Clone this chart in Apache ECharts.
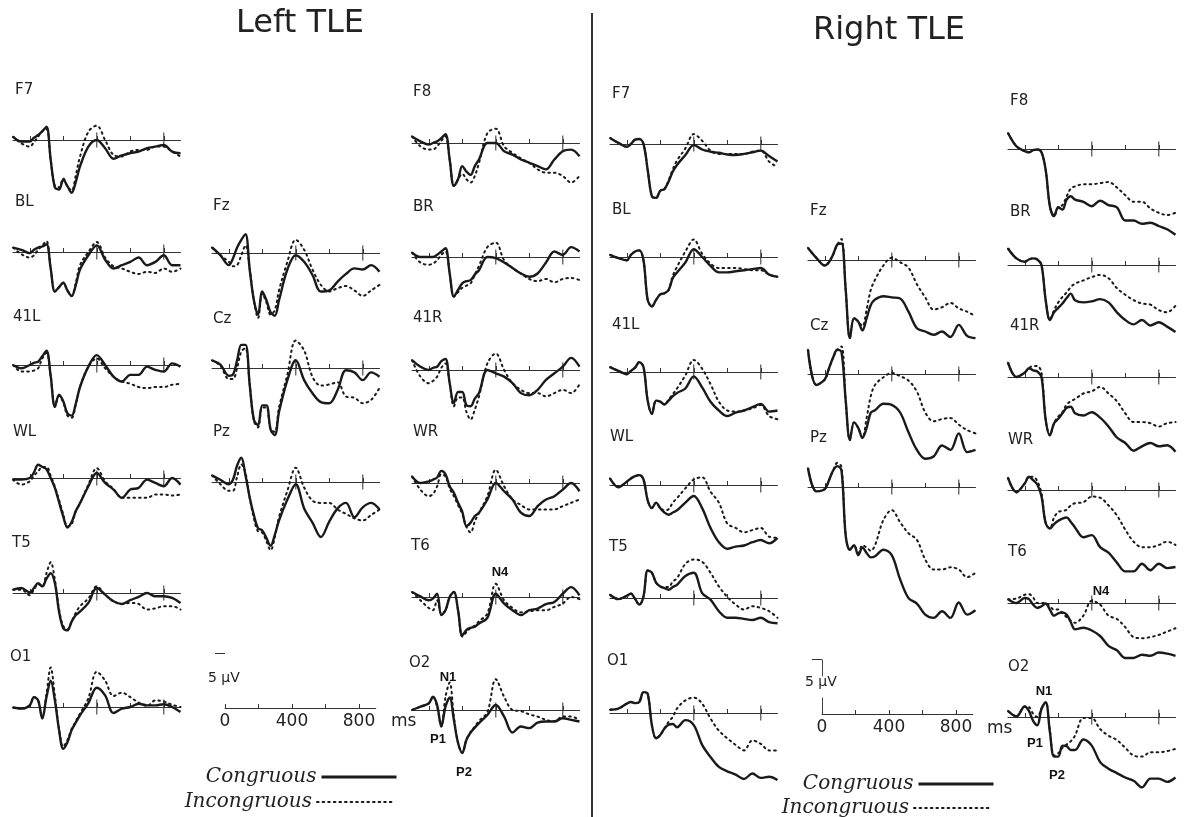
<!DOCTYPE html>
<html><head><meta charset="utf-8">
<script src="https://cdn.jsdelivr.net/npm/echarts@6/dist/echarts.min.js"></script>
<style>html,body{margin:0;padding:0;background:#fff}#c{width:1184px;height:817px}</style>
</head><body><div id="c"></div>
<script>
// ---- sampling times (ms) and tick values ----
const TIMES = [-100,-50,0,25,50,75,100,125,150,175,200,225,250,275,300,350,400,450,500,550,600,650,700,750,800,850,900];
const TICKS_SMALL = [0,200,600];
const TICKS_BIG = [400,800];
const SCALE_TICKS = [0,200,400,600,800];
const SCALE_LABELS = [0,400,800];
const SCALE_UV = 5;

// ---- Left TLE (µV, negative plotted up) ----
const L_F7_con = [-0.3,0.15,0.15,-0.2,-0.45,-0.8,-1.2,1.8,4.3,4.5,3.6,4.2,4.8,3.8,2.4,0.6,0,0.75,1.7,1.4,1.2,1.05,0.75,0.6,0.45,1.05,1.2];
const L_F7_inc = [-0.3,0.3,0.6,0.2,-0.3,-0.8,-1.0,1.8,4.2,4.3,3.5,4.2,4.6,3.2,1.5,-0.75,-1.3,0,1.35,1.5,1.05,0.9,0.9,0.6,0.6,1.05,1.5];
const L_BL_con = [-0.4,-0.2,0.1,-0.2,-0.4,-0.5,-0.7,1.5,3.6,3.2,2.8,3.5,4.0,3.0,1.6,0.3,-0.6,0.7,1.5,1.2,0.9,0.5,1.2,0.9,0.3,1.2,1.2];
const L_BL_inc = [-0.4,0.2,0.5,0.3,-0.2,-0.6,-1.0,1.5,3.6,3.2,2.8,3.5,4.0,2.8,1.2,0,-0.9,0.5,1.3,1.5,1.8,2.0,1.8,1.9,1.5,1.8,1.5];
const L_41L_con = [0,0.3,0,-0.2,-0.3,-0.8,-1.3,1.0,3.8,2.7,3.3,4.4,4.6,3.5,2.0,0.15,-0.9,0,1.05,1.5,0.9,0.9,0.15,0.45,0.6,-0.15,0.15];
const L_41L_inc = [0,0.6,0.6,0.5,0.3,-0.6,-1.1,1.0,3.8,2.8,3.4,4.6,4.8,3.6,2.0,0.15,-0.6,0.3,1.05,1.5,1.7,2.0,2.1,2.0,2.0,1.8,1.7];
const L_WL_con = [0.15,0.15,0,-0.5,-1.2,-1.0,-0.8,0,0.9,2.2,3.5,4.5,4.0,3.0,2.3,0.75,-0.45,0.45,1.05,1.8,1.05,0.9,0.15,0.45,0.75,0,0.6];
const L_WL_inc = [0.15,0.6,0.3,-0.2,-0.6,-1.0,-1.0,-0.2,0.8,2.0,3.3,4.4,4.2,3.0,2.3,0.6,-0.9,0.3,1.0,1.8,1.8,1.8,1.8,1.5,1.5,1.6,1.5];
const L_T5_con = [-0.3,-0.45,-0.05,-0.45,-0.9,-0.6,-1.3,-1.8,-0.9,1.7,3.2,3.4,2.6,2.0,1.7,0.9,-0.45,0.15,0.75,1.0,0.65,0.35,0,0.3,0.3,0.45,0.9];
const L_T5_inc = [-0.3,-0.3,0.2,-0.3,-0.8,-0.6,-1.8,-2.8,-1.2,1.5,3.0,3.3,2.6,1.8,1.2,0.5,-0.6,0.15,0.75,1.0,0.9,1.0,1.5,1.4,1.2,1.2,1.5];
const L_O1_con = [0.05,0.15,-0.15,-0.9,-0.6,1.05,-0.9,-2.4,-0.6,2.1,3.8,3.2,2.1,1.4,0.75,-0.35,-1.75,-1.05,0.55,0.15,0,-0.3,-0.15,-0.15,-0.25,0,0.45];
const L_O1_inc = [0.05,0.15,-0.15,-0.9,-0.6,1.0,-1.2,-3.6,-1.0,2.0,3.6,3.0,2.0,1.3,0.6,-0.8,-3.2,-2.4,-1.0,-1.3,-0.9,-0.4,-0.1,-0.6,-0.5,-0.2,0];
const L_Fz_con = [-0.5,0.2,1.1,0.5,-0.5,-1.2,-1.7,1.5,4.3,5.6,3.5,4.3,5.4,5.7,4.3,1.5,0.2,0.8,2.0,3.5,3.4,2.6,1.9,1.4,1.5,1.1,1.7];
const L_Fz_inc = [-0.5,0.2,0.8,1.2,1.1,0.2,-0.7,1.4,4.3,5.9,3.7,4.5,5.6,5.2,3.4,0.8,-1.2,-0.3,1.5,2.9,3.5,3.2,3.0,3.4,3.9,3.4,2.9];
const L_Cz_con = [-0.7,-0.3,0.7,0.6,-0.7,-2.1,-2.1,1.5,4.7,5.2,3.4,3.4,5.6,6.1,4.0,1.1,-0.7,1.1,2.3,3.1,3.2,2.0,0.2,0.4,1.1,0.4,0.8];
const L_Cz_inc = [-0.7,-0.2,1.0,1.0,0,-1.5,-1.8,1.5,4.8,5.4,3.6,3.6,5.6,5.8,3.6,0.6,-2.5,-1.6,0.8,1.6,1.5,1.3,2.6,2.7,3.2,2.9,1.8];
const L_Pz_con = [-0.6,-0.2,0.2,-0.2,-1.5,-2.2,-0.6,1.4,3.0,4.2,4.4,5.1,5.8,4.8,3.5,1.6,0.2,2.4,3.7,5.0,3.6,2.4,1.9,3.2,2.3,1.9,2.5];
const L_Pz_inc = [-0.6,0.2,0.8,0.8,-0.5,-1.6,-0.8,1.4,3.3,4.5,4.6,5.4,6.2,5.0,3.2,0.8,-1.3,0.5,1.7,1.9,1.9,2.5,2.9,3.3,3.5,3.0,2.5];
const L_F8_con = [-0.6,-0.15,0.15,0,-0.15,-0.45,-0.8,1.5,3.9,3.3,2.1,2.6,2.9,2.1,1.5,0,0,0.75,1.05,1.5,1.8,2.1,2.4,1.5,0.75,0.6,1.2];
const L_F8_inc = [-0.6,0.3,0.6,0.6,0.3,-0.2,-0.6,1.5,3.9,3.3,2.8,3.3,3.6,3.0,1.8,-0.9,-1.3,0.3,0.9,1.4,1.8,2.4,2.7,2.7,3.0,3.6,3.0];
const L_BR_con = [-0.4,0,0,0,-0.2,-0.5,-0.8,1.5,3.6,3.0,2.4,2.2,2.1,1.6,1.2,0,0.1,0.5,1.0,1.5,1.8,1.5,0.5,-0.5,-0.2,-0.9,-0.5];
const L_BR_inc = [-0.4,0.5,0.7,0.6,0.3,-0.2,-0.5,1.5,3.6,3.2,2.8,2.6,2.4,1.6,0.8,-0.9,-1.3,0.3,1.0,1.5,2.0,2.2,2.0,2.3,2.0,1.9,2.1];
const L_41R_con = [-0.9,-0.3,0,-0.2,-0.3,-0.8,-1.0,1.2,3.0,2.0,2.0,3.2,3.3,2.6,2.1,0,0.3,0.6,1.2,2.1,2.3,1.8,0.9,0.3,-0.3,-1.1,-0.3];
const L_41R_inc = [-0.9,0.6,1.2,1.0,0.6,-0.2,-0.6,1.2,3.3,2.5,2.5,3.8,4.5,3.6,2.4,-0.6,-1.5,0,1.2,1.8,2.1,2.1,2.4,2.1,1.8,2.1,1.3];
const L_WR_con = [-0.6,0,-0.15,-0.3,-0.5,-1.1,-0.8,0.3,0.9,1.8,2.6,3.9,3.6,3.0,2.7,1.5,0,0.75,1.5,2.7,3.0,2.1,1.5,1.2,0.6,0,0.75];
const L_WR_inc = [-0.6,0.6,1.2,1.0,0.3,-0.8,-0.6,0.5,1.2,2.0,2.8,4.0,4.5,3.5,2.7,1.2,-1.2,0.3,1.5,2.0,2.4,2.4,2.4,2.4,2.1,1.8,1.5];
const L_T6_con = [-0.45,-0.05,0.3,0.15,-0.3,1.65,1.2,0,-0.45,1.2,3.5,3.0,2.8,2.7,2.4,1.9,-0.3,0.6,1.2,1.65,1.2,1.05,0.65,0.45,-0.3,-0.9,-0.15];
const L_T6_inc = [-0.45,0.3,1.0,1.2,0.3,1.5,1.2,0,-0.45,1.2,3.6,3.2,2.8,2.6,2.2,1.5,-1.2,0.3,1.0,1.4,1.3,1.2,1.2,0.9,0.6,0,0.2];
const L_O2_con = [0,-0.3,-0.6,-1.2,-0.45,1.5,-0.3,-1.15,0.9,3.0,3.9,2.7,2.05,1.6,1.2,0.45,-0.45,0.6,2.05,1.5,1.65,1.15,1.05,1.05,0.75,0.9,1.05];
const L_O2_inc = [0,-0.3,-0.6,-1.2,-0.3,1.5,-1.2,-2.5,0.6,3.0,3.9,2.7,2.0,1.5,1.0,0.2,-2.8,-1.2,0,0.1,0.4,0.6,0.9,1.0,0.6,0.6,0.9];

// ---- Right TLE ----
const R_F7_con = [-0.55,-0.1,0.25,0,-0.4,-0.45,0,2.35,4.75,4.9,4.25,4.1,3.4,2.5,1.9,1.0,0.1,0.5,0.7,0.8,0.95,1.0,0.9,0.75,0.6,1.1,1.6];
const R_F7_inc = [-0.55,-0.1,0.25,0,-0.4,-0.45,0,2.35,4.75,4.9,4.25,4.1,3.3,2.3,1.5,0.4,-0.9,-0.3,0.6,0.9,0.9,0.9,0.9,0.7,0.6,1.6,2.1];
const R_BL_con = [-0.2,0.1,0.3,-0.2,-0.5,-0.6,0.3,3.9,4.5,3.9,3.4,3.3,3.0,1.9,1.4,0.5,-0.7,0,0.8,1.4,1.4,1.3,1.2,1.1,1.0,1.6,1.8];
const R_BL_inc = [-0.2,0.1,0.3,-0.2,-0.5,-0.6,0.3,3.9,4.5,3.9,3.4,3.3,3.0,1.7,0.9,-0.5,-1.6,-0.3,0.6,1.0,1.0,1.0,1.1,1.2,1.2,1.6,1.8];
const R_41L_con = [-0.45,-0.1,0.2,-0.1,-0.4,-0.9,-0.45,2.6,3.8,2.6,2.7,2.95,2.6,2.2,1.9,1.5,0.4,1.4,2.7,3.5,4.0,3.7,3.5,3.2,2.9,3.6,3.5];
const R_41L_inc = [-0.45,-0.1,0.2,-0.1,-0.4,-0.9,-0.45,2.6,3.8,2.6,2.7,2.95,2.5,2.0,1.5,0.3,-1.1,-0.3,1.1,2.7,3.5,3.6,3.5,3.3,3.0,4.0,4.3];
const R_WL_con = [-0.6,0.2,-0.3,-0.6,-0.8,-0.9,-0.5,1.4,2.1,1.6,2.1,2.5,2.7,2.5,2.3,1.6,1.0,2.1,3.9,5.2,5.8,5.6,5.5,5.2,5.0,5.3,4.8];
const R_WL_inc = [-0.6,0.2,-0.3,-0.6,-0.8,-0.9,-0.5,1.4,2.1,1.6,2.1,2.3,2.2,1.6,1.2,0.3,-0.5,-0.7,0.6,1.6,3.5,3.9,4.3,4.1,3.9,4.7,4.8];
const R_T5_con = [-0.3,0.1,-0.2,-0.4,0.1,0.6,-0.15,-2.5,-2.3,-1.4,-1.05,-0.9,-0.75,-1.0,-1.2,-2.0,-2.3,-0.45,0.15,1.2,1.8,1.8,1.9,2.0,1.8,2.2,2.3];
const R_T5_inc = [-0.3,0.1,-0.2,-0.4,0.1,0.6,-0.15,-2.5,-2.3,-1.4,-1.05,-1.0,-1.0,-1.5,-1.8,-3.1,-3.5,-3.3,-2.3,-1.05,-0.1,0.6,1.05,0.75,0.9,1.2,1.8];
const R_O1_con = [-0.3,-0.4,-0.85,-1.0,-0.9,-1.0,-1.9,-1.75,1.1,2.3,2.0,1.4,1.05,1.0,1.3,0.65,1.1,2.9,4.0,4.9,5.3,5.6,6.0,5.5,5.9,5.8,6.1];
const R_O1_inc = [-0.3,-0.4,-0.85,-1.0,-0.9,-1.0,-1.9,-1.75,1.1,2.3,2.0,1.4,0.8,0.35,-0.4,-1.15,-1.4,-0.85,0.5,1.6,2.3,2.9,3.4,2.5,2.8,3.4,3.4];
const R_Fz_con = [-1.1,-0.2,0.5,0.2,-0.5,-1.4,-1.5,2.7,7.1,5.3,5.6,6.4,5.3,4.1,3.6,3.3,3.4,3.5,4.7,6.2,6.5,6.8,6.5,7.0,5.9,6.9,7.1];
const R_Fz_inc = [-1.1,-0.2,0.5,0.2,-0.5,-1.4,-1.9,2.7,7.1,5.3,5.6,6.0,4.5,2.7,1.8,0.5,-0.2,0.2,0.7,2.2,3.4,4.5,4.3,3.9,4.4,4.7,5.1];
const R_Cz_con = [-2.2,1.0,0.5,-0.5,-1.5,-2.2,-2.0,2.4,6.0,4.4,4.9,5.8,4.9,3.5,3.3,2.7,2.8,3.5,5.3,6.9,7.7,7.5,6.5,6.9,5.4,7.1,6.9];
const R_Cz_inc = [-2.2,1.0,0.5,-0.5,-1.5,-2.2,-2.5,2.4,6.0,4.4,4.9,5.8,4.0,2.0,1.0,0.3,-0.1,0.2,0.6,1.6,3.5,4.3,4.1,4.0,4.6,5.1,5.4];
const R_Pz_con = [-1.7,0.4,0.2,-0.6,-1.5,-1.9,-1.5,4.4,5.7,5.3,6.2,5.5,6.0,6.4,6.3,5.7,6.2,8.4,10.1,10.6,11.6,11.9,11.3,11.9,10.5,11.6,11.2];
const R_Pz_inc = [-1.7,0.4,0.2,-0.6,-1.5,-2.2,-1.8,4.4,5.7,5.3,6.0,5.3,5.5,5.8,5.3,3.0,2.1,3.2,4.2,4.8,6.6,7.5,7.5,7.3,7.5,8.2,7.8];
const R_F8_con = [-1.45,-0.25,0.2,0.3,0.1,0.05,0.3,1.9,5.2,6.1,5.3,5.5,4.6,4.3,4.6,4.8,5.2,4.7,5.1,5.3,6.5,6.5,6.8,6.7,7.0,7.3,7.8];
const R_F8_inc = [-1.45,-0.25,0.2,0.3,0.1,0.05,0.3,1.9,5.2,6.1,5.3,5.1,4.3,3.6,3.4,3.2,3.2,3.1,3.0,3.5,4.2,4.8,4.8,5.4,5.8,6.0,5.8];
const R_BR_con = [-1.5,-0.6,-0.3,-0.5,-0.6,-0.5,0,3.2,5.0,4.3,3.9,3.5,3.0,2.6,3.2,3.4,3.3,3.1,3.4,4.3,5.0,5.4,5.0,5.5,5.2,5.6,6.1];
const R_BR_inc = [-1.5,-0.6,-0.3,-0.5,-0.6,-0.5,0,3.2,5.0,4.1,3.4,2.9,2.5,2.0,1.7,1.4,1.1,0.9,1.2,2.1,2.7,3.2,3.5,3.6,4.1,4.3,3.7];
const R_41R_con = [-1.3,0,-0.4,-0.8,-0.6,-0.5,0,3.9,5.3,4.2,3.8,3.3,2.8,2.7,3.3,3.5,3.2,3.7,4.5,5.5,6.0,6.7,6.3,6.0,6.3,6.2,6.8];
const R_41R_inc = [-1.3,0,-0.4,-0.8,-1.0,-1.0,-0.4,3.9,5.3,4.2,3.6,3.2,2.5,2.2,2.0,1.5,1.3,0.9,1.5,2.2,3.3,4.1,4.1,4.2,4.5,4.2,4.1];
const R_WR_con = [-1.1,0.2,-0.6,-1.2,-0.9,-0.5,0.6,3.0,3.5,3.1,2.8,2.6,2.5,2.9,3.4,4.3,4.1,5.2,5.7,6.6,7.4,7.4,6.7,7.3,6.7,7.1,7.0];
const R_WR_inc = [-1.1,0.2,-0.6,-1.2,-1.2,-0.8,0.3,3.0,3.5,2.5,2.0,1.9,1.8,1.4,1.2,1.1,0.6,0.7,1.4,2.3,3.6,4.7,5.2,5.2,5.0,4.7,5.0];
const R_T6_con = [-0.35,0,-0.45,-0.35,0.15,0.45,0.3,0.05,0.6,1.15,0.95,0.85,1.05,1.75,2.4,2.25,2.5,3.0,3.9,4.3,5.0,5.0,4.7,4.8,4.5,4.6,4.8];
const R_T6_inc = [-0.35,-0.4,-0.75,-0.8,-0.5,0,0,0,0.3,0.6,0.6,0.9,1.3,1.6,1.8,1.15,-0.2,0.15,1.15,1.45,2.2,3.1,3.2,3.1,2.9,2.6,2.3];
const R_O2_con = [-0.55,-0.05,-0.95,-0.55,0.35,0.75,-0.75,-1.35,1.35,3.6,3.6,2.6,2.65,3.0,3.0,2.05,2.6,4.1,4.7,5.1,5.5,5.8,6.4,5.6,5.6,5.9,5.5];
const R_O2_inc = [-0.55,-0.05,-0.95,-0.9,-0.3,0,-0.75,-1.35,1.2,3.5,3.3,2.8,2.5,2.2,1.7,0.1,0.1,1.1,1.7,2.1,2.8,3.5,3.6,3.2,3.2,3.1,2.9];

// ---- layout (pixels) ----
const CHART_H = 817;
const PX_PER_MS = 0.1675, PX_PER_UV = 11, Y_MIN = -6, Y_MAX_LIMIT = 13;
const COL = {L1:13, L2:212, L3:412, R1:610, R2:808, R3:1008};
const PANELS = [
  {n:'F7', c:L_F7_con, i:L_F7_inc, col:'L1', base:140, lx:15, ly:90},
  {n:'BL', c:L_BL_con, i:L_BL_inc, col:'L1', base:252, lx:15, ly:202},
  {n:'41L', c:L_41L_con, i:L_41L_inc, col:'L1', base:365, lx:13, ly:317},
  {n:'WL', c:L_WL_con, i:L_WL_inc, col:'L1', base:478, lx:13, ly:432},
  {n:'T5', c:L_T5_con, i:L_T5_inc, col:'L1', base:593, lx:12, ly:543},
  {n:'O1', c:L_O1_con, i:L_O1_inc, col:'L1', base:707, lx:10, ly:657},
  {n:'Fz', c:L_Fz_con, i:L_Fz_inc, col:'L2', base:253, lx:213, ly:206},
  {n:'Cz', c:L_Cz_con, i:L_Cz_inc, col:'L2', base:368, lx:213, ly:319},
  {n:'Pz', c:L_Pz_con, i:L_Pz_inc, col:'L2', base:482, lx:213, ly:432},
  {n:'F8', c:L_F8_con, i:L_F8_inc, col:'L3', base:143, lx:413, ly:92},
  {n:'BR', c:L_BR_con, i:L_BR_inc, col:'L3', base:257, lx:413, ly:207},
  {n:'41R', c:L_41R_con, i:L_41R_inc, col:'L3', base:370, lx:413, ly:318},
  {n:'WR', c:L_WR_con, i:L_WR_inc, col:'L3', base:483, lx:413, ly:432},
  {n:'T6', c:L_T6_con, i:L_T6_inc, col:'L3', base:597, lx:411, ly:546},
  {n:'O2', c:L_O2_con, i:L_O2_inc, col:'L3', base:710, lx:409, ly:663},
  {n:'F7', c:R_F7_con, i:R_F7_inc, col:'R1', base:144, lx:612, ly:94},
  {n:'BL', c:R_BL_con, i:R_BL_inc, col:'R1', base:257, lx:612, ly:210},
  {n:'41L', c:R_41L_con, i:R_41L_inc, col:'R1', base:372, lx:612, ly:325},
  {n:'WL', c:R_WL_con, i:R_WL_inc, col:'R1', base:485, lx:610, ly:437},
  {n:'T5', c:R_T5_con, i:R_T5_inc, col:'R1', base:598, lx:609, ly:547},
  {n:'O1', c:R_O1_con, i:R_O1_inc, col:'R1', base:713, lx:607, ly:661},
  {n:'Fz', c:R_Fz_con, i:R_Fz_inc, col:'R2', base:260, lx:810, ly:211},
  {n:'Cz', c:R_Cz_con, i:R_Cz_inc, col:'R2', base:374, lx:810, ly:326},
  {n:'Pz', c:R_Pz_con, i:R_Pz_inc, col:'R2', base:487, lx:810, ly:438},
  {n:'F8', c:R_F8_con, i:R_F8_inc, col:'R3', base:149, lx:1010, ly:101},
  {n:'BR', c:R_BR_con, i:R_BR_inc, col:'R3', base:265, lx:1010, ly:212},
  {n:'41R', c:R_41R_con, i:R_41R_inc, col:'R3', base:377, lx:1010, ly:326},
  {n:'WR', c:R_WR_con, i:R_WR_inc, col:'R3', base:490, lx:1008, ly:440},
  {n:'T6', c:R_T6_con, i:R_T6_inc, col:'R3', base:603, lx:1008, ly:552},
  {n:'O2', c:R_O2_con, i:R_O2_inc, col:'R3', base:717, lx:1008, ly:667}
];

const INK = '#1a1a1a';
const grids = [], xAxes = [], yAxes = [], series = [], gfx = [];

PANELS.forEach((p, k) => {
  // keep each panel's grid inside the canvas so the µV scale is never compressed
  const yMax = Math.min(Y_MAX_LIMIT, Math.floor((CHART_H - 1 - p.base) / PX_PER_UV));
  grids.push({left: COL[p.col], top: p.base + Y_MIN * PX_PER_UV, width: 1000 * PX_PER_MS, height: (yMax - Y_MIN) * PX_PER_UV});
  xAxes.push({gridIndex: k, type: 'value', min: -100, max: 900,
    axisLine: {onZero: true, lineStyle: {color: '#333', width: 1}},
    axisTick: {show: true, inside: true, length: 4, customValues: TICKS_SMALL.concat(TICKS_BIG), lineStyle: {color: '#333', width: 1}},
    axisLabel: {show: false}, splitLine: {show: false}});
  yAxes.push({gridIndex: k, type: 'value', min: Y_MIN, max: yMax, inverse: true, show: false});
  series.push({name: 'Incongruous', type: 'line', xAxisIndex: k, yAxisIndex: k,
    data: TIMES.map((t, j) => [t, p.i[j]]), smooth: 0.35, symbol: 'none', silent: true, clip: false,
    itemStyle: {color: INK},
    lineStyle: {color: INK, width: 2, type: [1.6, 4], cap: 'round'}, z: 3});
  series.push({name: 'Congruous', type: 'line', xAxisIndex: k, yAxisIndex: k,
    data: TIMES.map((t, j) => [t, p.c[j]]), smooth: 0.35, symbol: 'none', silent: true, clip: false,
    itemStyle: {color: INK},
    lineStyle: {color: INK, width: 2.4}, z: 4});
  series.push({type: 'scatter', xAxisIndex: k, yAxisIndex: k, data: TICKS_BIG.map(t => [t, 0]),
    symbol: 'rect', symbolSize: [1.3, 15], itemStyle: {color: '#333'}, silent: true, z: 2});
  gfx.push({type: 'text', x: p.lx, y: p.ly, style: {text: p.n, font: '15px "DejaVu Sans"', fill: '#222', verticalAlign: 'middle'}});
});

// scale bars (left and right)
const SCALES = [{x0: 225, base: 708, dashed: false}, {x0: 822, base: 714, dashed: true}];
SCALES.forEach(s => {
  const g = grids.length;
  grids.push({left: s.x0, top: s.base - SCALE_UV * PX_PER_UV, width: 900 * PX_PER_MS, height: SCALE_UV * PX_PER_UV});
  xAxes.push({gridIndex: g, type: 'value', min: 0, max: 900, position: 'bottom',
    axisLine: {onZero: false, lineStyle: {color: '#333', width: 1}},
    axisTick: {show: true, inside: true, length: 4, customValues: SCALE_TICKS, lineStyle: {color: '#333'}},
    axisLabel: {customValues: SCALE_LABELS, fontSize: 17, fontFamily: 'DejaVu Sans', color: '#222', margin: 5},
    splitLine: {show: false}});
  yAxes.push({gridIndex: g, type: 'value', min: 0, max: SCALE_UV, position: 'left',
    axisLine: {show: s.dashed, lineStyle: {color: '#444', width: 1, type: [16, 22]}},
    axisTick: {show: true, customValues: [SCALE_UV], length: 10, lineStyle: {color: '#333'}},
    axisLabel: {show: false}, splitLine: {show: false}});
  series.push({type: 'line', xAxisIndex: g, yAxisIndex: g, data: [], silent: true});
});

// titles, divider, annotations
gfx.push({type: 'text', x: 300, y: 24, style: {text: 'Left TLE', font: '32px "DejaVu Sans"', fill: '#222', align: 'center', verticalAlign: 'middle'}});
gfx.push({type: 'text', x: 889, y: 31, style: {text: 'Right TLE', font: '32px "DejaVu Sans"', fill: '#222', align: 'center', verticalAlign: 'middle'}});
gfx.push({type: 'line', shape: {x1: 592, y1: 13, x2: 592, y2: 817}, style: {stroke: '#333', lineWidth: 2}});
[['5 μV', 208, 678], ['5 μV', 805, 682]].forEach(a => gfx.push({type: 'text', x: a[1], y: a[2], style: {text: a[0], font: '14px "DejaVu Sans"', fill: '#222', verticalAlign: 'middle'}}));
[['ms', 391, 722], ['ms', 987, 729]].forEach(a => gfx.push({type: 'text', x: a[1], y: a[2], style: {text: a[0], font: '17px "DejaVu Sans"', fill: '#222', verticalAlign: 'middle'}}));
const COMP = [['N4', 500, 572], ['N1', 448, 677], ['P1', 438, 739], ['P2', 464, 772],
              ['N4', 1101, 591], ['N1', 1044, 691], ['P1', 1035, 743], ['P2', 1057, 775]];
COMP.forEach(a => gfx.push({type: 'text', x: a[1], y: a[2], style: {text: a[0], font: 'bold 13px "Liberation Sans"', fill: '#111', align: 'center', verticalAlign: 'middle'}}));

const legBase = {orient: 'horizontal', align: 'right', itemWidth: 75, itemHeight: 12, padding: 0, selectedMode: false,
  itemStyle: {opacity: 0},
  textStyle: {fontFamily: 'DejaVu Serif', fontStyle: 'italic', fontSize: 20, color: '#222'}};
const legends = [
  Object.assign({}, legBase, {data: ['Congruous'], right: 1184 - 398, top: 767, lineStyle: {width: 3}}),
  Object.assign({}, legBase, {data: ['Incongruous'], right: 1184 - 393, top: 792}),
  Object.assign({}, legBase, {data: ['Congruous'], right: 1184 - 995, top: 774, lineStyle: {width: 3}}),
  Object.assign({}, legBase, {data: ['Incongruous'], right: 1184 - 990, top: 798})
];

const chart = echarts.init(document.getElementById('c'), null, {renderer: 'canvas'});
chart.setOption({
  animation: false,
  backgroundColor: '#fff',
  grid: grids, xAxis: xAxes, yAxis: yAxes, series: series,
  legend: legends,
  graphic: {elements: gfx}
});
</script></body></html>
